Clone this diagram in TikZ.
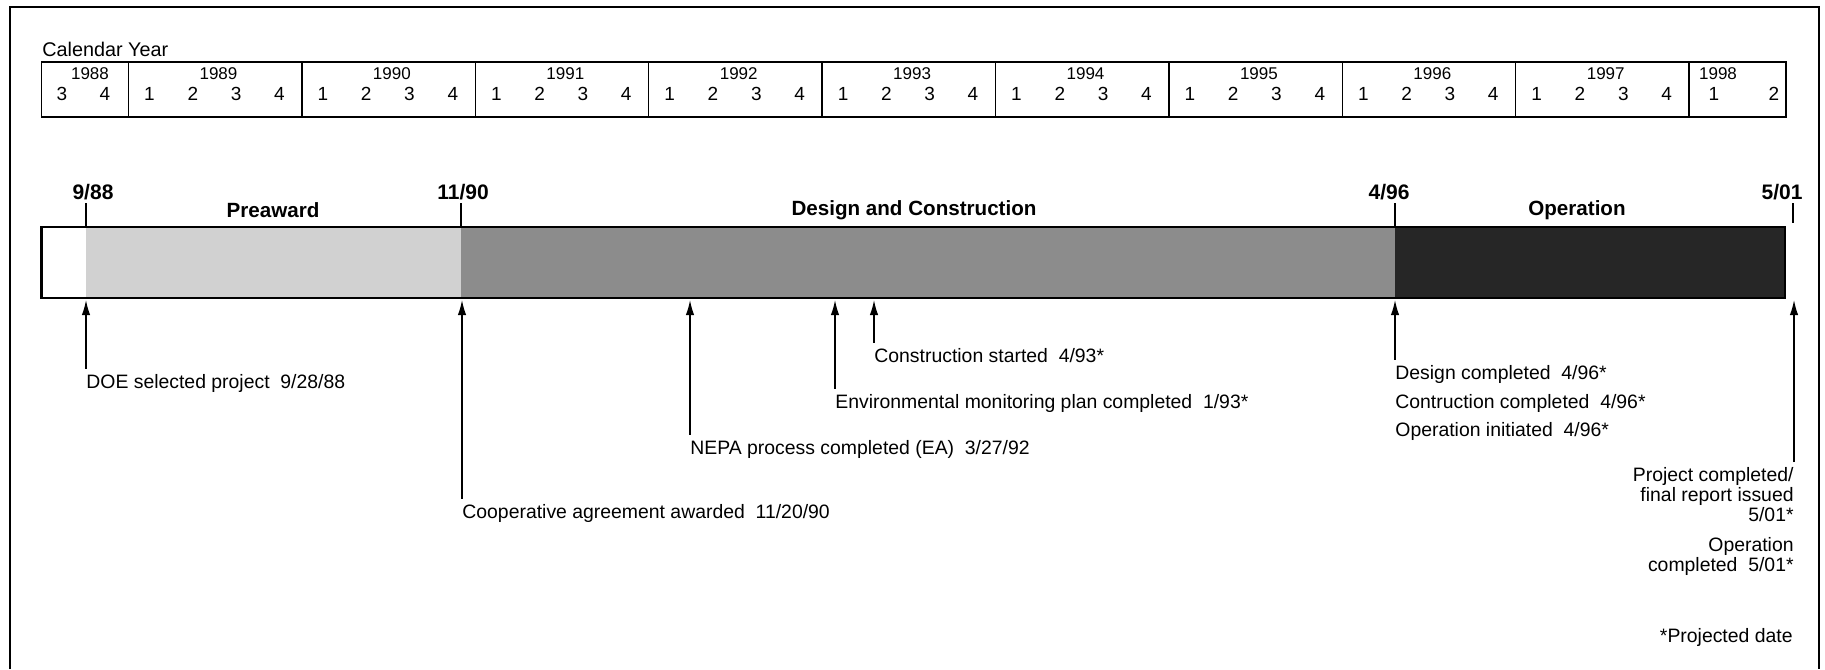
\documentclass[tikz,border=0pt]{standalone}
\usepackage{fontspec}
\setmainfont{Liberation Sans}
\usetikzlibrary{arrows.meta,positioning,calc}

\tikzset{
  yearlbl/.style={font=\fontsize{8.5}{10}\selectfont,inner sep=1pt},
  qtrlbl/.style={font=\fontsize{9.5}{10}\selectfont,inner sep=1pt},
  datelbl/.style={font=\fontsize{10.5}{12}\selectfont\bfseries,inner sep=1.5pt},
  phaselbl/.style={font=\fontsize{10.3}{12}\selectfont\bfseries,inner sep=1pt},
  evtxt/.style={anchor=base west,inner xsep=0pt,inner ysep=2.5pt,font=\fontsize{9.7}{10}\selectfont},
  evarrow/.style={-{Latex[length=7.5pt,width=4.2pt]},line width=0.7pt},
}

\begin{document}
\begin{tikzpicture}[x=0.5pt,y=-0.5pt]
\useasboundingbox (0,0) rectangle (1825,669);
% ---- cornice ----
\draw[line width=1.3pt] (10,669) -- (10,7) -- (1819,7) -- (1819,669);
% ---- calendario ----
\node[anchor=base west,inner sep=0pt,font=\fontsize{9.9}{11}\selectfont] (calyear) at (42,56) {Calendar Year};
\draw[line width=0.9pt] (41.5,62) rectangle (1786,117);
\node[yearlbl] (y1988) at (90,74) {1988};
\node[qtrlbl] (q1988-3) at (62,94) {3};
\node[qtrlbl] (q1988-4) at (105,94) {4};
\foreach \yr [count=\k from 0] in {1989,...,1997}{
  \draw[line width=0.7pt] (128.5+\k*173.4,62) -- (128.5+\k*173.4,117);
  \node[yearlbl] (y\yr) at (218.5+\k*173.4,74) {\yr};
  \foreach \q in {1,...,4}
    \node[qtrlbl] (q\yr-\q) at (106.2+\k*173.4+\q*43.3,94) {\q};
}
\draw[line width=0.7pt] (1689.1,62) -- (1689.1,117);
\node[yearlbl] (y1998) at (1718,74) {1998};
\node[qtrlbl] (q1998-1) at (1714,94) {1};
\node[qtrlbl] (q1998-2) at (1774,94) {2};
% ---- barra delle fasi ----
\fill[black!18] (86,227) rectangle (461,298);
\fill[black!45] (461,227) rectangle (1395,298);
\fill[black!85] (1395,227) rectangle (1785,298);
\draw[line width=1.2pt] (41.5,227) rectangle (1785,298);
\coordinate (b988) at (86,227);
\coordinate (b1190) at (461,227);
\coordinate (b496) at (1395,227);
\coordinate (b501) at (1793,223);
\node[datelbl] (t988) at (93,192) {9/88};
\node[datelbl] (t1190) at (463,192) {11/90};
\node[datelbl] (t496) at (1389,192) {4/96};
\node[datelbl] (t501) at (1782,192) {5/01};
\draw[line width=0.7pt] (t988.south -| b988) -- (b988);
\draw[line width=0.7pt] (t1190.south -| b1190) -- (b1190);
\draw[line width=0.7pt] (t496.south -| b496) -- (b496);
\draw[line width=0.7pt] (t501.south -| b501) -- (b501);
\node[phaselbl] (preaward) at (273,210) {Preaward};
\node[phaselbl] (design) at (914,210) {Design and Construction};
\node[phaselbl] (oper) at (1577,210) {Operation};
% ---- eventi ----
\coordinate (m988) at (86,300);
\coordinate (m1190) at (462,300);
\coordinate (m392) at (690,300);
\coordinate (m193) at (835,300);
\coordinate (m493) at (874,300);
\coordinate (m496) at (1395,300);
\coordinate (m501) at (1794,300);
\node[evtxt] (doe) at (86,388) {DOE selected project~ 9/28/88};
\node[evtxt] (coop) at (462,518) {Cooperative agreement awarded~ 11/20/90};
\node[evtxt] (nepa) at (690,454) {NEPA process completed (EA)~ 3/27/92};
\node[evtxt] (envmon) at (835,408) {Environmental monitoring plan completed~ 1/93*};
\node[evtxt] (cstart) at (874,362) {Construction started~ 4/93*};
\node[evtxt] (dcomp) at (1395,379) {Design completed~ 4/96*};
\node[evtxt] (ccomp) at (1395,408) {Contruction completed~ 4/96*};
\node[evtxt] (oinit) at (1395,436) {Operation initiated~ 4/96*};
\node[evtxt,anchor=north east,align=right] (pcomp) at (1794,462) {Project completed/\\final report issued\\5/01*};
\node[evtxt,anchor=north east,align=right] (ocomp) at (1794,532) {Operation\\completed~ 5/01*};
\node[evtxt,anchor=base east] (proj) at (1793,642) {*Projected date};
\draw[evarrow] (doe.north west) -- (m988);
\draw[evarrow] (coop.north west) -- (m1190);
\draw[evarrow] (nepa.north west) -- (m392);
\draw[evarrow] (envmon.north west) -- (m193);
\draw[evarrow] (cstart.north west) -- (m493);
\draw[evarrow] (dcomp.north west) -- (m496);
\draw[evarrow] (pcomp.north east) -- (m501);
\end{tikzpicture}
\end{document}
